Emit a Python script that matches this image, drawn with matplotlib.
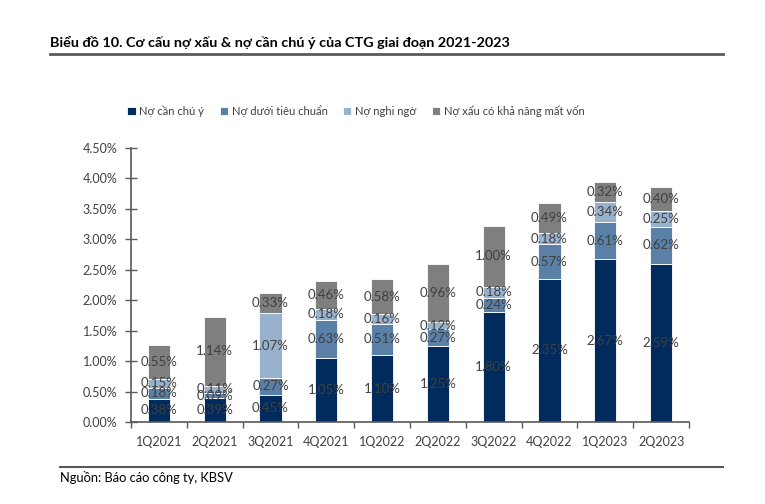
import matplotlib
matplotlib.use("Agg")
import matplotlib.pyplot as plt
from matplotlib.ticker import FuncFormatter, MultipleLocator
import numpy as np

plt.rcParams['font.family'] = ['Lato', 'DejaVu Sans']

categories = ["1Q2021", "2Q2021", "3Q2021", "4Q2021", "1Q2022",
              "2Q2022", "3Q2022", "4Q2022", "1Q2023", "2Q2023"]
series_names = ["Nợ cần chú ý", "Nợ dưới tiêu chuẩn", "Nợ nghi ngờ",
                "Nợ xấu có khả năng mất vốn"]
no_can_chu_y = [0.38, 0.39, 0.45, 1.05, 1.10, 1.25, 1.80, 2.35, 2.67, 2.59]
no_duoi_tieu_chuan = [0.18, 0.09, 0.27, 0.63, 0.51, 0.27, 0.24, 0.57, 0.61, 0.62]
no_nghi_ngo = [0.15, 0.11, 1.07, 0.18, 0.16, 0.12, 0.18, 0.18, 0.34, 0.25]
no_mat_von = [0.55, 1.14, 0.33, 0.46, 0.58, 0.96, 1.00, 0.49, 0.32, 0.40]

series = [no_can_chu_y, no_duoi_tieu_chuan, no_nghi_ngo, no_mat_von]
colors = ["#002B5C", "#5A80A8", "#98B2CD", "#7F7F7F"]

fig = plt.figure(figsize=(7.65, 5.04), dpi=100)
ax = fig.add_axes([131/765, 1-422/504, 558/765, (422-148)/504])

x = np.arange(len(categories))
bottom = np.zeros(len(categories))
handles = []
for vals, col, name in zip(series, colors, series_names):
    v = np.array(vals)
    b = ax.bar(x, v, 0.4, bottom=bottom, color=col, edgecolor="white",
               linewidth=0.6, label=name)
    handles.append(b)
    for xi, bi, vi in zip(x, bottom, v):
        ax.text(xi, bi + vi/2, f"{vi:.2f}%", ha="center", va="center",
                fontsize=9.5, color="#404040")
    bottom = bottom + v

ax.set_xlim(-0.5, len(categories)-0.5)
ax.set_ylim(0, 4.5)
ax.yaxis.set_major_locator(MultipleLocator(0.5))
ax.yaxis.set_major_formatter(FuncFormatter(lambda v, p: f"{v:.2f}%"))
ax.set_xticks(x)
ax.set_xticklabels(categories)
ax.set_xticks(np.arange(len(categories)+1)-0.5, minor=True)
ax.tick_params(axis="x", which="major", length=0, pad=10, labelsize=9,
               labelcolor="#404040")
ax.tick_params(axis="x", which="minor", length=4, color="#595959", width=1)
ax.tick_params(axis="y", length=8, direction="inout", color="#595959",
               width=1, labelsize=9, labelcolor="#404040", pad=6)
for s in ["top", "right"]:
    ax.spines[s].set_visible(False)
for s in ["left", "bottom"]:
    ax.spines[s].set_color("#595959")
    ax.spines[s].set_linewidth(1.2)

fig.legend(handles=handles, labels=series_names, loc="center",
           bbox_to_anchor=(356/765, 1-111/504), ncol=4, frameon=False,
           fontsize=8.1, handlelength=0.75, handleheight=0.75,
           handletextpad=0.35, columnspacing=1.35, labelcolor="#404040")

fig.text(50/765, 1-42/504, "Biểu đồ 10. Cơ cấu nợ xấu & nợ cần chú ý của CTG giai đoạn 2021-2023",
         fontsize=10.4, fontweight="bold", color="#000000", va="center", ha="left")
fig.add_artist(plt.Line2D([50/765, 723/765], [1-54/504, 1-54/504],
                          color="#595959", linewidth=2, transform=fig.transFigure))
fig.add_artist(plt.Line2D([60/765, 723/765], [1-467/504, 1-467/504],
                          color="#595959", linewidth=1.5, transform=fig.transFigure))
fig.text(60/765, 1-478/504, "Nguồn: Báo cáo công ty, KBSV", fontsize=9.3,
         color="#000000", va="center", ha="left")

fig.savefig("out.png", dpi=100)
